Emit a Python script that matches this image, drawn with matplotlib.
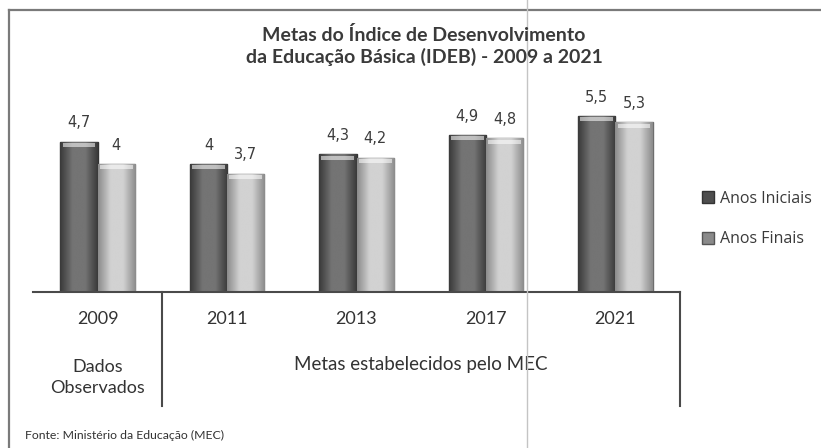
import matplotlib
matplotlib.use("Agg")
import matplotlib.pyplot as plt
import numpy as np
from matplotlib.lines import Line2D
from matplotlib.patches import Rectangle

years = ["2009", "2011", "2013", "2017", "2021"]
anos_iniciais = [4.7, 4.0, 4.3, 4.9, 5.5]
anos_finais = [4.0, 3.7, 4.2, 4.8, 5.3]
series_names = ["Anos Iniciais", "Anos Finais"]
title = "Metas do Índice de Desenvolvimento\nda Educação Básica (IDEB) - 2009 a 2021"
group_observed = "Dados\nObservados"
group_goals = "Metas estabelecidos pelo MEC"
source = "Fonte: Ministério da Educação (MEC)"

W, H = 821, 448
fig = plt.figure(figsize=(W / 100, H / 100), dpi=100)
fig.patch.set_facecolor("white")

def fx(px):
    return px / W

def fy(py):
    return 1 - py / H

# frame around the chart (scan border)
fig.add_artist(Line2D([fx(9), fx(9)], [fy(10), 0], color="#7a7a7a", lw=1.6))
fig.add_artist(Line2D([fx(9), 1], [fy(10), fy(10)], color="#7a7a7a", lw=1.6))
# fold line of the scan
fig.add_artist(Line2D([fx(527), fx(527)], [0, 1], color="#c4c4c4", lw=1.0))

ax_left, ax_right = 33, 680
base_y, top_val, px_per_unit = 292, 6.0, 32.0
ax_h = top_val * px_per_unit
ax = fig.add_axes([fx(ax_left), fy(base_y), (ax_right - ax_left) / W, ax_h / H])
ax.set_xlim(-0.5, len(years) - 0.5)
ax.set_ylim(0, top_val)
ax.patch.set_alpha(0)
for s in ["top", "right", "left"]:
    ax.spines[s].set_visible(False)
ax.spines["bottom"].set_color("#4a4a4a")
ax.spines["bottom"].set_linewidth(1.5)
ax.set_yticks([])

x = np.arange(len(years))
bw = 0.288

def shade(bars, edge, mid):
    cmap = matplotlib.colors.LinearSegmentedColormap.from_list("c", [edge, mid, mid, edge])
    grad = np.linspace(0, 1, 64).reshape(1, -1)
    for b in bars:
        x0, w, h = b.get_x(), b.get_width(), b.get_height()
        im = ax.imshow(grad, cmap=cmap, aspect="auto", extent=[x0, x0 + w, 0, h],
                       zorder=2, interpolation="bicubic")
        im.set_clip_path(b)
        cap = Rectangle((x0 + w * 0.06, h - 0.16), w * 0.88, 0.12, facecolor="white",
                        edgecolor="none", alpha=0.55, zorder=3)
        ax.add_patch(cap)

b1 = ax.bar(x - bw / 2, anos_iniciais, bw, color="#5e5e5e", edgecolor="#333333",
            linewidth=1.0, zorder=1)
b2 = ax.bar(x + bw / 2, anos_finais, bw, color="#bdbdbd", edgecolor="#6e6e6e",
            linewidth=1.0, zorder=1)
shade(b1, "#3a3a3a", "#747474")
shade(b2, "#8c8c8c", "#d2d2d2")
ax.set_xlim(-0.5, len(years) - 0.5)
ax.set_ylim(0, top_val)

def fmt(v):
    return (("%g" % v)).replace(".", ",")

for bars, vals in [(b1, anos_iniciais), (b2, anos_finais)]:
    for b, v in zip(bars, vals):
        ax.annotate(fmt(v), (b.get_x() + b.get_width() / 2, v), xytext=(0, 13.5),
                    textcoords="offset points", ha="center", va="center",
                    fontsize=10.5, color="#3c3c3c", family="DejaVu Sans")

lab_font = ["Lato", "DejaVu Sans"]
# category (year) labels
ax.set_xticks(x)
ax.set_xticklabels(years, fontsize=13, color="#333333", family=lab_font)
ax.tick_params(axis="x", length=0, pad=14)

# dividers below axis
xt = ax.get_xaxis_transform()
lo = -(406 - base_y) / ax_h
for xv in [0.5, len(years) - 0.5]:
    ax.plot([xv, xv], [0, lo], transform=xt, color="#4a4a4a", lw=1.5, clip_on=False)

ax.text(0, -(377.5 - base_y) / ax_h, group_observed, transform=xt, ha="center", va="center",
        fontsize=13, color="#333333", linespacing=1.45, family=lab_font)
ax.text((0.5 + len(years) - 0.5) / 2, -(364 - base_y) / ax_h, group_goals, transform=xt,
        ha="center", va="center", fontsize=13.5, color="#333333", family=lab_font)

fig.text(fx(424), fy(46), title, ha="center", va="center", fontsize=14, fontweight="bold",
         color="#3a3a3a", linespacing=1.25, family=["Lato", "DejaVu Sans"])

fig.text(fx(25), fy(435), source, ha="left", va="center", fontsize=8.8, color="#333333",
         family=lab_font)

# legend
handles = [Rectangle((0, 0), 1, 1, facecolor="#4e4e4e", edgecolor="#333333"),
           Rectangle((0, 0), 1, 1, facecolor="#8a8a8a", edgecolor="#555555")]
leg = fig.legend(handles, series_names, loc="center left",
                 bbox_to_anchor=(fx(688), fy(219)), frameon=False,
                 handlelength=0.75, handleheight=0.75, handletextpad=0.35,
                 labelspacing=1.55, prop={"family": ["Open Sans", "DejaVu Sans"], "size": 11.5})
for t in leg.get_texts():
    t.set_color("#3a3a3a")

fig.savefig("out.png", dpi=100, facecolor="white")
